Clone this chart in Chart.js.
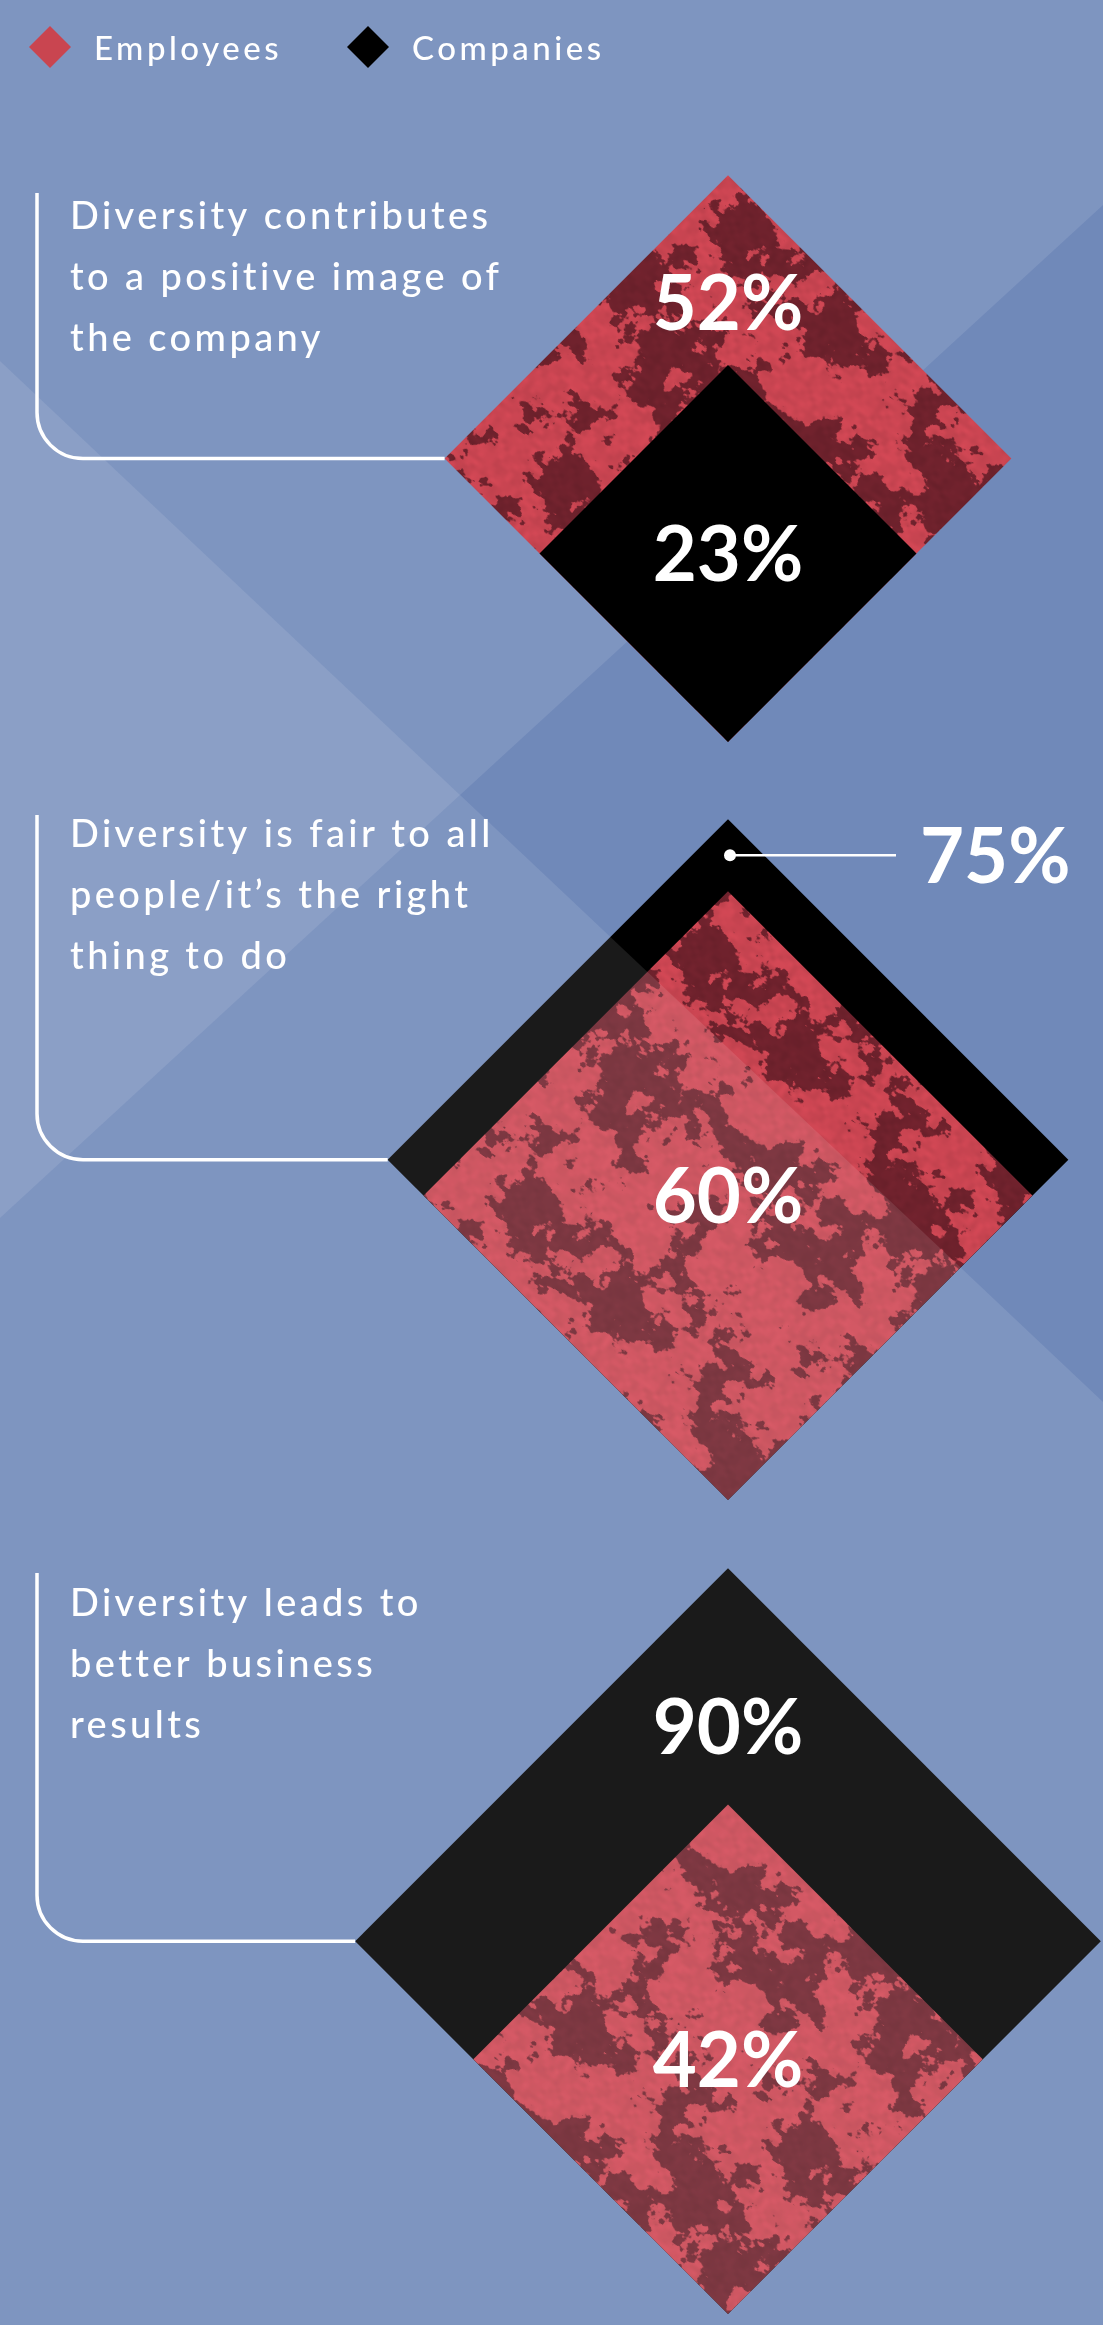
<!DOCTYPE html>
<html>
<head>
<meta charset="utf-8">
<title>Why diversity</title>
<script src="https://cdn.jsdelivr.net/npm/chart.js@4"></script>
<style>
  html, body { margin: 0; padding: 0; background: #7089b9; }
  canvas { display: block; }
</style>
</head>
<body>
<canvas id="chart" width="1103" height="2325"></canvas>
<script>
/* ================================
   Data
   ================================ */
const questions = [
  ["Diversity contributes", "to a positive image of", "the company"],
  ["Diversity is fair to all", "people/it’s the right", "thing to do"],
  ["Diversity leads to", "better business", "results"]
];
const seriesNames = ["Employees", "Companies"];
const employees = [52, 60, 42];
const companies = [23, 75, 90];

/* ================================
   Layout + styles
   ================================ */
const W = 1103, H = 2325;
const PX = 39.3;                       // pixels per unit, half-diagonal = sqrt(value) units
const CENTER_X = 728;
const anchorY = [742, 1500, 2314];     // shared bottom vertex of each pair (px)
const textTop = [193, 815, 1573];      // top of the white bracket
const firstBaseline = [229, 847, 1616];
const LINE_GAP = 61;
const TEXT_X = 70;
const BRACKET_X = 37;
const BRACKET_R = 46;
const calloutSide = [false, true, false];

const colors = {
  base: "#7089b9",
  red: [206, 70, 83],
  redDark: [112, 34, 45],
  legendRed: "#c94550",
  black: "#000000"
};

// background split into four regions by two diagonals
const topRegion = [[0, 0], [W, 0], [W, 205], [460, 795], [0, 361]];
const leftRegion = [[0, 361], [460, 795], [0, 1218]];
const bottomRegion = [[0, 1218], [460, 795], [W, 1402], [W, H], [0, H]];

/* ================================
   Mottled red texture
   ================================ */
function makeTexture(ctx) {
  const size = 384;
  const c = document.createElement("canvas");
  c.width = c.height = size;
  const g = c.getContext("2d");
  const img = g.createImageData(size, size);

  const hash = (i, j, o) => {
    let h = Math.imul(i + 1, 73856093) ^ Math.imul(j + 7, 19349663) ^ Math.imul(o + 3, 83492791);
    h = Math.imul(h ^ (h >>> 13), 1274126177);
    h ^= h >>> 16;
    return (h >>> 0) / 4294967295;
  };
  const noise = (px, py, n, o) => {
    const cell = size / n;
    const gx = px / cell, gy = py / cell;
    const x0 = Math.floor(gx), y0 = Math.floor(gy);
    let fx = gx - x0, fy = gy - y0;
    fx = fx * fx * (3 - 2 * fx);
    fy = fy * fy * (3 - 2 * fy);
    const a = hash(x0 % n, y0 % n, o), b = hash((x0 + 1) % n, y0 % n, o);
    const cc = hash(x0 % n, (y0 + 1) % n, o), d = hash((x0 + 1) % n, (y0 + 1) % n, o);
    const top = a + (b - a) * fx, bot = cc + (d - cc) * fx;
    return top + (bot - top) * fy;
  };
  const octaves = [[6, 0.8], [12, 0.8], [24, 0.6], [48, 0.4], [96, 0.25], [192, 0.12]];
  const field = new Float32Array(size * size);
  const grain = new Float32Array(size * size);
  let lo = Infinity, hi = -Infinity;

  for (let py = 0; py < size; py++) {
    for (let px = 0; px < size; px++) {
      let v = 0;
      octaves.forEach(([n, amp], o) => { v += amp * noise(px, py, n, o); });
      const k = py * size + px;
      field[k] = v;
      grain[k] = noise(px, py, 64, 9);
      if (v < lo) lo = v;
      if (v > hi) hi = v;
    }
  }

  for (let k = 0; k < field.length; k++) {
    const t = (field[k] - lo) / (hi - lo);
    let m = Math.min(1, Math.max(0, (t - 0.5) / 0.035));
    m = m * m * (3 - 2 * m);
    const shade = 0.93 + 0.1 * grain[k];
    for (let ch = 0; ch < 3; ch++) {
      const col = colors.red[ch] + (colors.redDark[ch] - colors.red[ch]) * m;
      img.data[k * 4 + ch] = Math.min(255, col * shade);
    }
    img.data[k * 4 + 3] = 255;
  }
  g.putImageData(img, 0, 0);
  const pattern = ctx.createPattern(c, "repeat");
  pattern.setTransform(new DOMMatrix().rotateSelf(35).scaleSelf(1, 0.8));
  return pattern;
}

/* ================================
   Datasets: one filled diamond per value
   ================================ */
const canvas = document.getElementById("chart");
const redPattern = makeTexture(canvas.getContext("2d"));

function diamond(value, base) {
  const s = Math.sqrt(value);
  return [
    { x: 0, y: base }, { x: s, y: base - s }, { x: 0, y: base - 2 * s },
    { x: -s, y: base - s }, { x: 0, y: base }
  ];
}

const datasets = [];
questions.forEach((q, i) => {
  const base = anchorY[i] / PX;
  const pair = [employees[i], companies[i]];
  pair.forEach((v, j) => {
    const other = pair[1 - j];
    datasets.push({
      label: seriesNames[j],
      data: diamond(v, base),
      showLine: true,
      fill: "shape",
      backgroundColor: j === 0 ? redPattern : colors.black,
      borderColor: "rgba(0,0,0,0)",
      borderWidth: 0,
      pointRadius: 0,
      tension: 0,
      order: v >= other ? 1 : 0
    });
  });
});

/* ================================
   Plugins
   ================================ */
function fillPoly(ctx, pts, color) {
  ctx.save();
  ctx.fillStyle = color;
  ctx.beginPath();
  pts.forEach(([px, py], k) => (k ? ctx.lineTo(px, py) : ctx.moveTo(px, py)));
  ctx.closePath();
  ctx.fill();
  ctx.restore();
}

const backdrop = {
  id: "backdrop",
  beforeDraw(chart) {
    const ctx = chart.ctx;
    ctx.save();
    ctx.fillStyle = colors.base;
    ctx.fillRect(0, 0, W, H);
    ctx.restore();
    fillPoly(ctx, topRegion, "rgba(255,255,255,0.1)");
    fillPoly(ctx, leftRegion, "rgba(255,255,255,0.19)");
  },
  afterDatasetsDraw(chart) {
    fillPoly(chart.ctx, bottomRegion, "rgba(255,255,255,0.1)");
  }
};

const PCT_SIZE = 76;
const CAP = 0.72;

const annotations = {
  id: "annotations",
  afterDraw(chart) {
    const { ctx, scales: { x, y } } = chart;
    ctx.save();
    ctx.fillStyle = "#fff";
    ctx.strokeStyle = "#fff";
    ctx.textBaseline = "alphabetic";

    // legend
    ctx.font = "500 33px Lato";
    ctx.letterSpacing = "3.5px";
    ctx.textAlign = "left";
    let lx = 50;
    seriesNames.forEach((name, j) => {
      ctx.fillStyle = j === 0 ? colors.legendRed : colors.black;
      ctx.beginPath();
      ctx.moveTo(lx, 26); ctx.lineTo(lx + 21, 47); ctx.lineTo(lx, 68); ctx.lineTo(lx - 21, 47);
      ctx.closePath();
      ctx.fill();
      ctx.fillStyle = "#fff";
      ctx.fillText(name, lx + 44, 60);
      lx += 44 + ctx.measureText(name).width + 86;
    });

    const pct = (txt, px, cy, align) => {
      ctx.font = `bold ${PCT_SIZE}px Lato`;
      ctx.letterSpacing = "0px";
      ctx.textAlign = align;
      ctx.fillText(txt, px, cy + PCT_SIZE * CAP / 2);
    };

    questions.forEach((lines, i) => {
      const vals = [employees[i], companies[i]];
      const outer = vals[0] >= vals[1] ? 0 : 1;
      const inner = 1 - outer;
      const sOut = Math.sqrt(vals[outer]);
      const sIn = Math.sqrt(vals[inner]);
      const base = anchorY[i] / PX;

      const cx = x.getPixelForValue(0);
      const midY = y.getPixelForValue(base - sOut);
      const tipX = x.getPixelForValue(-sOut);
      const topOut = y.getPixelForValue(base - 2 * sOut);
      const topIn = y.getPixelForValue(base - 2 * sIn);
      const midIn = y.getPixelForValue(base - sIn);

      // bracket from the question to the outer diamond's left tip
      ctx.lineWidth = 3.5;
      ctx.beginPath();
      ctx.moveTo(BRACKET_X, textTop[i]);
      ctx.lineTo(BRACKET_X, midY - BRACKET_R);
      ctx.arcTo(BRACKET_X, midY, BRACKET_X + BRACKET_R, midY, BRACKET_R);
      ctx.lineTo(tipX, midY);
      ctx.stroke();

      // question text
      ctx.font = "500 38px Lato";
      ctx.letterSpacing = "3.4px";
      ctx.textAlign = "left";
      lines.forEach((t, k) => ctx.fillText(t, TEXT_X, firstBaseline[i] + k * LINE_GAP));

      // values
      pct(vals[inner] + "%", cx, midIn, "center");
      if (calloutSide[i]) {
        const dy = topOut + 0.5 * (topIn - topOut);
        ctx.beginPath();
        ctx.arc(cx + 2, dy, 6, 0, Math.PI * 2);
        ctx.fill();
        ctx.lineWidth = 2.5;
        ctx.beginPath();
        ctx.moveTo(cx + 2, dy);
        ctx.lineTo(896, dy);
        ctx.stroke();
        pct(vals[outer] + "%", 920, dy, "left");
      } else {
        pct(vals[outer] + "%", cx, topOut + 0.67 * (topIn - topOut), "center");
      }
    });
    ctx.restore();
  }
};

/* ================================
   Chart
   ================================ */
new Chart(canvas, {
  type: "scatter",
  data: { datasets },
  options: {
    responsive: false,
    animation: false,
    devicePixelRatio: 1,
    events: [],
    layout: { padding: 0 },
    plugins: { legend: { display: false }, tooltip: { enabled: false } },
    scales: {
      x: { type: "linear", display: false, min: -CENTER_X / PX, max: (W - CENTER_X) / PX },
      y: { type: "linear", display: false, reverse: true, min: 0, max: H / PX }
    }
  },
  plugins: [backdrop, annotations]
});
</script>
</body>
</html>
